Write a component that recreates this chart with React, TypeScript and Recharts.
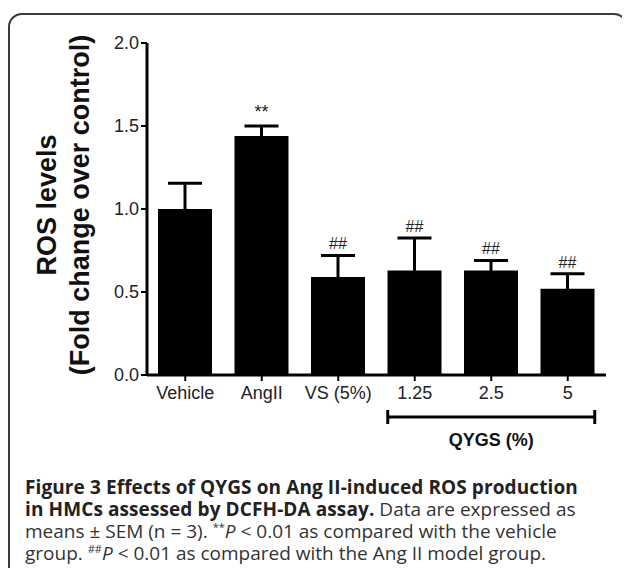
import React from 'react';
import { BarChart, Bar, XAxis, YAxis, ErrorBar, LabelList } from 'recharts';

const categories = ['Vehicle', 'AngII', 'VS (5%)', '1.25', '2.5', '5'];
const rosMean = [1.0, 1.44, 0.59, 0.63, 0.63, 0.52];
const rosSem = [0.155, 0.06, 0.13, 0.195, 0.06, 0.09];
const sigMarks = ['', '**', '##', '##', '##', '##'];
const yTicks = [0, 0.5, 1.0, 1.5, 2.0];

const data = categories.map((name, i) => ({
  name,
  ros: rosMean[i],
  sem: rosSem[i],
  mark: sigMarks[i],
}));

const W = 616;
const H = 450;
const MARGIN = { top: 28, right: 20, left: 77, bottom: 60 };
const Y_AXIS_W = 60;
const BAR_SIZE = 54;
const ARIAL = '"Liberation Sans", Arial, sans-serif';

// significance marks sit just above the error bar cap
const MarkLabel = (props: any) => {
  const { x, y, width, height, index } = props;
  const d = data[index];
  if (!d || !d.mark) return null;
  const pxPerUnit = Number(height) / d.ros;
  const errTop = Number(y) - d.sem * pxPerUnit;
  const star = d.mark === '**';
  return (
    <text
      x={Number(x) + Number(width) / 2}
      y={errTop - (star ? 8 : 6)}
      textAnchor="middle"
      fontSize={star ? 18 : 16}
      fontFamily={ARIAL}
      fill="#222"
    >
      {d.mark}
    </text>
  );
};

const YLabel = (props: any) => {
  const { viewBox } = props;
  const cy = viewBox.y + viewBox.height / 2 - 4;
  const x1 = viewBox.x - 40;
  const x2 = viewBox.x - 7;
  const common = {
    textAnchor: 'middle' as const,
    dominantBaseline: 'central' as const,
    fontSize: 27,
    fontWeight: 700,
    fontFamily: ARIAL,
    fill: '#111',
  };
  return (
    <g>
      <text x={x1} y={cy} transform={`rotate(-90, ${x1}, ${cy})`} {...common}>
        ROS levels
      </text>
      <text x={x2} y={cy} transform={`rotate(-90, ${x2}, ${cy})`} {...common}>
        (Fold change over control)
      </text>
    </g>
  );
};

// bracket under the QYGS dose groups
const QygsBracket = () => {
  const plotLeft = MARGIN.left + Y_AXIS_W;
  const band = (W - plotLeft - MARGIN.right) / categories.length;
  const x1 = plotLeft + band * 3 + (band - BAR_SIZE) / 2;
  const x2 = plotLeft + band * 5 + (band + BAR_SIZE) / 2;
  const y = 402;
  return (
    <svg
      width={W}
      height={H}
      style={{ position: 'absolute', left: 0, top: 0, pointerEvents: 'none' }}
    >
      <line x1={x1} y1={y} x2={x2} y2={y} stroke="#000" strokeWidth={3} />
      <line x1={x1} y1={y - 7} x2={x1} y2={y + 7} stroke="#000" strokeWidth={3} />
      <line x1={x2} y1={y - 7} x2={x2} y2={y + 7} stroke="#000" strokeWidth={3} />
      <text
        x={(x1 + x2) / 2}
        y={425}
        textAnchor="middle"
        dominantBaseline="central"
        fontSize={18}
        fontWeight={700}
        fontFamily={ARIAL}
        fill="#111"
      >
        QYGS (%)
      </text>
    </svg>
  );
};

const captionStyle: React.CSSProperties = {
  fontFamily: '"Open Sans", "Noto Sans", sans-serif',
  fontSize: 19,
  lineHeight: '22px',
  color: '#333',
  paddingLeft: 15,
  marginTop: 11,
  whiteSpace: 'nowrap',
};

const bold: React.CSSProperties = { fontWeight: 700, color: '#222', letterSpacing: 0.1 };
const sup: React.CSSProperties = { fontSize: 11, lineHeight: 0, verticalAlign: 'super' };

export default function App() {
  return (
    <div
      style={{
        marginTop: 5,
        width: 620,
        height: 580,
        boxSizing: 'border-box',
        border: '2px solid #3a3a3a',
        borderRadius: 14,
        background: '#fff',
      }}
    >
      <div style={{ position: 'relative', width: W, height: H }}>
        <BarChart width={W} height={H} data={data} margin={MARGIN}>
          <XAxis
            dataKey="name"
            interval={0}
            height={30}
            axisLine={{ stroke: '#000', strokeWidth: 3 }}
            tickLine={{ stroke: '#000', strokeWidth: 2 }}
            tickSize={6}
            tickMargin={5}
            tick={{ fontSize: 18, fill: '#222', fontFamily: ARIAL }}
          />
          <YAxis
            width={Y_AXIS_W}
            domain={[0, 2]}
            ticks={yTicks}
            interval={0}
            tickFormatter={(v: number) => v.toFixed(1)}
            axisLine={{ stroke: '#000', strokeWidth: 3 }}
            tickLine={{ stroke: '#000', strokeWidth: 2 }}
            tickSize={6}
            tickMargin={2}
            tick={{ fontSize: 18, fill: '#222', fontFamily: ARIAL }}
            label={{ content: <YLabel /> }}
          />
          <Bar dataKey="ros" fill="#000" barSize={BAR_SIZE} isAnimationActive={false}>
            <ErrorBar dataKey="sem" width={17} strokeWidth={3} stroke="#000" direction="y" />
            <LabelList dataKey="mark" content={<MarkLabel />} />
          </Bar>
        </BarChart>
        <QygsBracket />
      </div>
      <div style={captionStyle}>
        <span style={bold}>Figure 3 Effects of QYGS on Ang II-induced ROS production</span>
        <br />
        <span style={bold}>in HMCs assessed by DCFH-DA assay.</span> Data are expressed as
        <br />
        means ± SEM (n = 3). <span style={sup}>**</span>
        <i>P</i> &lt; 0.01 as compared with the vehicle
        <br />
        group. <span style={sup}>##</span>
        <i>P</i> &lt; 0.01 as compared with the Ang II model group.
      </div>
    </div>
  );
}
